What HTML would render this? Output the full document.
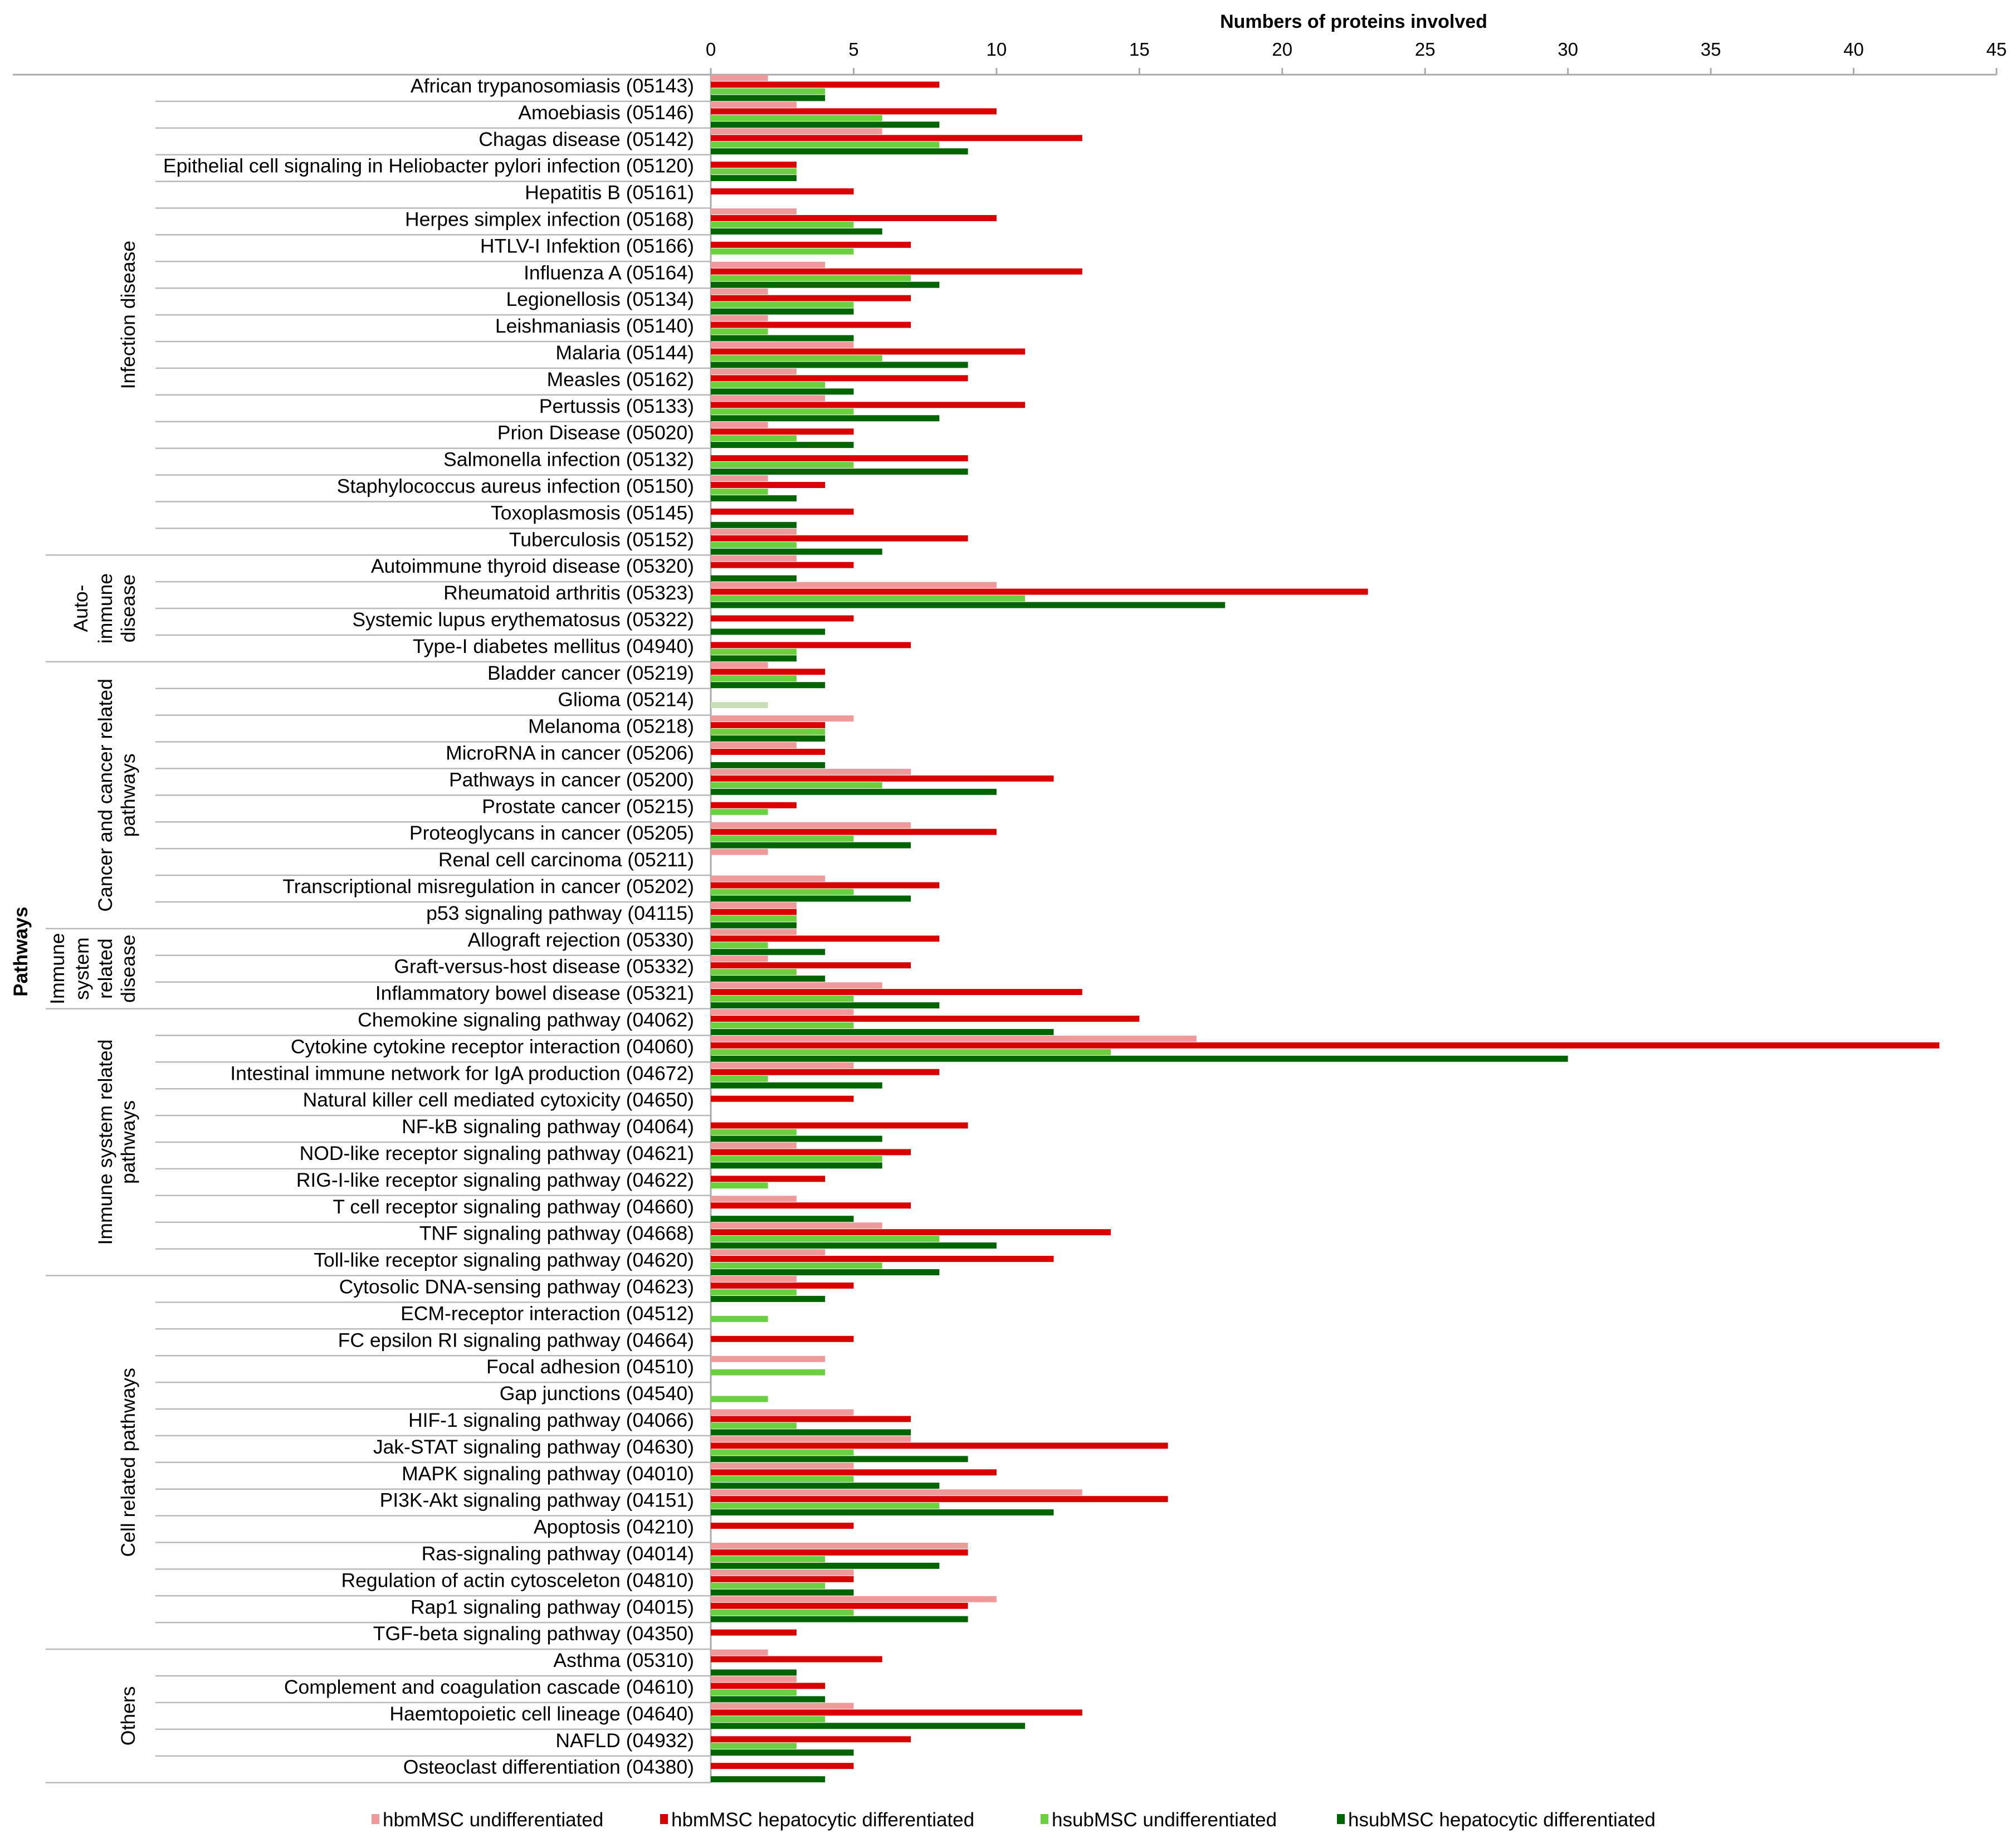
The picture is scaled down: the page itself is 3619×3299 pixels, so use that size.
<!DOCTYPE html>
<html><head><meta charset="utf-8"><style>
html,body{margin:0;padding:0;background:#fff;}
svg{display:block;font-family:"Liberation Sans",Arial,sans-serif;}
</style></head><body>
<svg id="chart" width="3619" height="3299" viewBox="0 0 3619 3299" xmlns="http://www.w3.org/2000/svg">
<rect x="0" y="0" width="3619" height="3299" fill="#fff"/>
</svg>
<script>
const categories = ["African trypanosomiasis (05143)","Amoebiasis (05146)","Chagas disease (05142)","Epithelial cell signaling in Heliobacter pylori infection (05120)","Hepatitis B (05161)","Herpes simplex infection (05168)","HTLV-I Infektion (05166)","Influenza A (05164)","Legionellosis (05134)","Leishmaniasis (05140)","Malaria (05144)","Measles (05162)","Pertussis (05133)","Prion Disease (05020)","Salmonella infection (05132)","Staphylococcus aureus infection (05150)","Toxoplasmosis (05145)","Tuberculosis (05152)",
"Autoimmune thyroid disease (05320)","Rheumatoid arthritis (05323)","Systemic lupus erythematosus (05322)","Type-I diabetes mellitus (04940)",
"Bladder cancer (05219)","Glioma (05214)","Melanoma (05218)","MicroRNA in cancer (05206)","Pathways in cancer (05200)","Prostate cancer (05215)","Proteoglycans in cancer (05205)","Renal cell carcinoma (05211)","Transcriptional misregulation in cancer (05202)","p53 signaling pathway (04115)",
"Allograft rejection (05330)","Graft-versus-host disease (05332)","Inflammatory bowel disease (05321)",
"Chemokine signaling pathway (04062)","Cytokine cytokine receptor interaction (04060)","Intestinal immune network for IgA production (04672)","Natural killer cell mediated cytoxicity (04650)","NF-kB signaling pathway (04064)","NOD-like receptor signaling pathway (04621)","RIG-I-like receptor signaling pathway (04622)","T cell receptor signaling pathway (04660)","TNF signaling pathway (04668)","Toll-like receptor signaling pathway (04620)",
"Cytosolic DNA-sensing pathway (04623)","ECM-receptor interaction (04512)","FC epsilon RI signaling pathway (04664)","Focal adhesion (04510)","Gap junctions (04540)","HIF-1 signaling pathway (04066)","Jak-STAT signaling pathway (04630)","MAPK signaling pathway (04010)","PI3K-Akt signaling pathway (04151)","Apoptosis (04210)","Ras-signaling pathway (04014)","Regulation of actin cytosceleton (04810)","Rap1 signaling pathway (04015)","TGF-beta signaling pathway (04350)",
"Asthma (05310)","Complement and coagulation cascade (04610)","Haemtopoietic cell lineage (04640)","NAFLD (04932)","Osteoclast differentiation (04380)"];
const hbmUndiff = [2,3,6,0,0,3,0,4,2,2,5,3,4,2,0,2,0,3, 3,10,0,0, 2,0,5,3,7,0,7,2,4,3, 3,2,6, 5,17,5,0,0,3,0,3,6,4, 3,0,0,4,0,5,7,5,13,0,9,5,10,0, 2,3,5,0,0];
const hbmHep = [8,10,13,3,5,10,7,13,7,7,11,9,11,5,9,4,5,9, 5,23,5,7, 4,0,4,4,12,3,10,0,8,3, 8,7,13, 15,43,8,5,9,7,4,7,14,12, 5,0,5,0,0,7,16,10,16,5,9,5,9,3, 6,4,13,7,5];
const hsubUndiff = [4,6,8,3,0,5,5,7,5,2,6,4,5,3,5,2,0,3, 0,11,0,3, 3,2,4,0,6,2,5,0,5,3, 2,3,5, 5,14,2,0,3,6,2,0,8,6, 3,2,0,4,2,3,5,5,8,0,4,4,5,0, 0,3,4,3,0];
const hsubHep = [4,8,9,3,0,6,0,8,5,5,9,5,8,5,9,3,3,6, 3,18,4,3, 4,0,4,4,10,0,7,0,7,3, 4,4,8, 12,30,6,0,6,6,0,5,10,8, 4,0,0,0,0,7,9,8,12,0,8,5,9,0, 3,4,11,5,4];
const groupNames = [["Infection disease"],["Auto-","immune","disease"],["Cancer and cancer related","pathways"],["Immune","system","related","disease"],["Immune system related","pathways"],["Cell related pathways"],["Others"]];
const groupStarts = [0,18,22,32,35,45,59];
const xTicks = [0,5,10,15,20,25,30,35,40,45];
const seriesNames = ["hbmMSC undifferentiated","hbmMSC hepatocytic differentiated","hsubMSC undifferentiated","hsubMSC hepatocytic differentiated"];

const NS = "http://www.w3.org/2000/svg";
const svg = document.getElementById('chart');
const X0 = 1276, X1 = 3584, XMAX = 45;
const Y0 = 134, PITCH = 47.9;
const xs = v => X0 + (v / XMAX) * (X1 - X0);
const rowTop = i => Y0 + i * PITCH;
function mk(tag, attrs, text) {
  const e = document.createElementNS(NS, tag);
  for (const k in attrs) e.setAttribute(k, attrs[k]);
  if (text !== undefined) e.textContent = text;
  svg.appendChild(e);
  return e;
}
const colors = ["#f0999b","#d90000","#6bd040","#006400"];
const series = [hbmUndiff, hbmHep, hsubUndiff, hsubHep];
const n = categories.length;
const Yend = rowTop(n);

for (let i = 1; i <= n; i++) {
  const isGroup = groupStarts.includes(i) || i === n;
  const l = mk('line', {x1: isGroup ? 82 : 279, x2: X0, y1: rowTop(i), y2: rowTop(i), stroke: '#b8b8b8', 'stroke-width': 2.5});
  
  
}
const ax = mk('line', {x1: 23, x2: X1, y1: Y0, y2: Y0, stroke: '#aaaaaa', 'stroke-width': 3});


const vy = mk('line', {x1: X0, x2: X0, y1: Y0, y2: Yend, stroke: '#aaaaaa', 'stroke-width': 3});



xTicks.forEach(t => {
  const tk = mk('line', {x1: xs(t), x2: xs(t), y1: Y0 - 12, y2: Y0, stroke: '#aaaaaa', 'stroke-width': 3});
  
  
  const tl = mk('text', {x: xs(t), y: 100, 'text-anchor': 'middle', 'font-size': 33, fill: '#000'}, String(t));
  
  
});
const xt = mk('text', {x: 2430, y: 50, 'text-anchor': 'middle', 'font-size': 34, 'font-weight': 'bold', fill: '#000'}, "Numbers of proteins involved");



const bh = PITCH / 4;
for (let i = 0; i < n; i++) {
  const lbl = mk('text', {x: 1246, y: rowTop(i) + PITCH / 2 + 8, 'text-anchor': 'end', 'font-size': 35.5, fill: '#000'}, categories[i]);
  
  
  for (let s = 0; s < 4; s++) {
    const v = series[s][i];
    if (!v) continue;
    let c = colors[s];
    if (s === 2 && categories[i].startsWith('Glioma')) c = '#c7deb6';
    const r = mk('rect', {x: X0, y: rowTop(i) + s * bh + 0.5, width: xs(v) - X0, height: bh - 1, fill: c});
    
    
  }
}

const lineXs = {1: [230], 2: [189, 230], 3: [145, 189, 230], 4: [103, 147, 189, 230]};
groupNames.forEach((g, gi) => {
  const start = groupStarts[gi];
  const end = gi + 1 < groupStarts.length ? groupStarts[gi + 1] : n;
  const cy = (rowTop(start) + rowTop(end)) / 2;
  const xsArr = lineXs[g.length];
  g.forEach((txt, li) => {
    const x = xsArr[li];
    const t = mk('text', {x: x, y: cy, 'text-anchor': 'middle', 'font-size': 35.5, fill: '#000', transform: `rotate(-90 ${x} ${cy})`, dy: 12}, txt);
    
    
  });
});
const yt = mk('text', {x: 37, y: 1708, 'text-anchor': 'middle', 'font-size': 35, 'font-weight': 'bold', fill: '#000', transform: 'rotate(-90 37 1708)', dy: 12}, "Pathways");



const legX = [667, 1185, 1868, 2400];
seriesNames.forEach((nm, s) => {
  const sq = mk('rect', {x: legX[s], y: 3256, width: 14, height: 18, fill: colors[s]});
  
  
  const t = mk('text', {x: legX[s] + 20, y: 3278, 'font-size': 35, fill: '#000'}, nm);
  
  
});
</script>
</body></html>
